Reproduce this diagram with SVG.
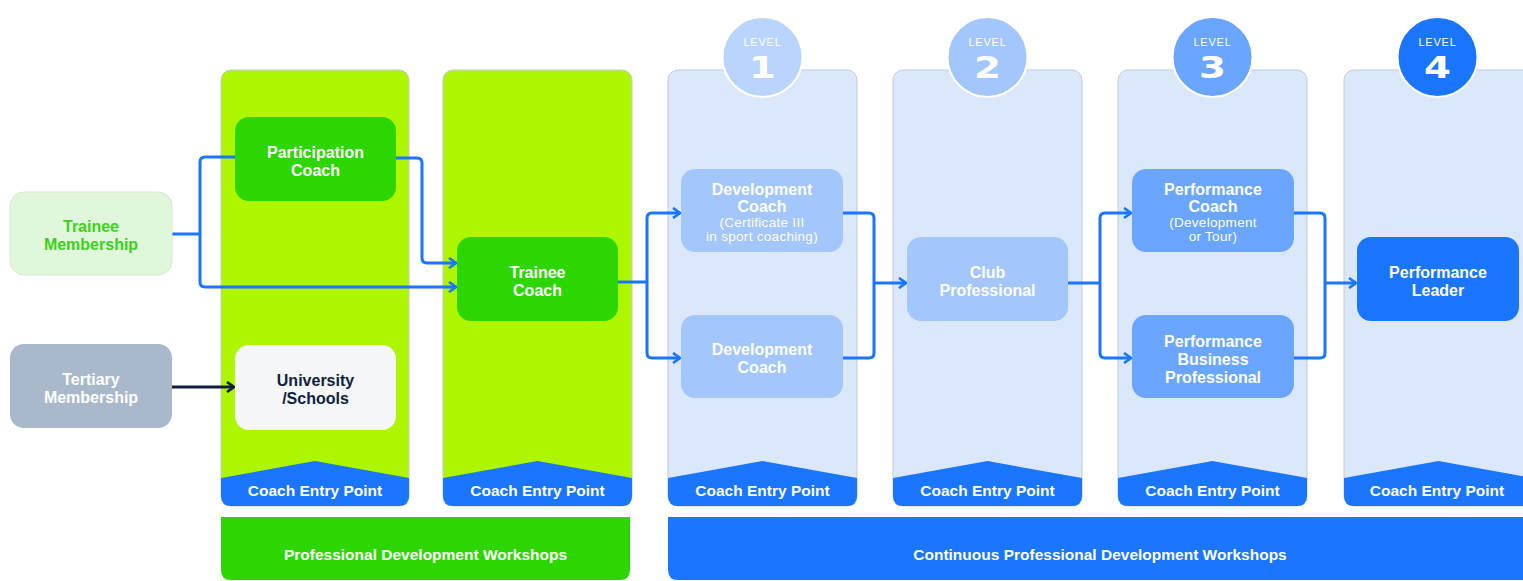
<svg xmlns="http://www.w3.org/2000/svg" width="1523" height="581" viewBox="0 0 1523 581">
<style>
.colg{fill:#AEF500;stroke:#C3CBD6;stroke-width:1}
.colb{fill:#DBE8FC;stroke:#C3CBD6;stroke-width:1}
.band{fill:#1A75FF}
.bandt{font-family:"Liberation Sans",Arial,sans-serif;font-weight:bold;font-size:15.5px;fill:#fff;text-anchor:middle}
.t{font-family:"Liberation Sans",Arial,sans-serif;font-weight:bold;font-size:16px;text-anchor:middle;fill:#fff}
.s{font-family:"Liberation Sans",Arial,sans-serif;font-size:13.5px;letter-spacing:0.3px;text-anchor:middle;fill:#fff}
.lvl{font-family:"Liberation Sans",Arial,sans-serif;font-size:11px;letter-spacing:0.8px;text-anchor:middle;fill:#fff}
.num{font-family:"DejaVu Sans",sans-serif;font-weight:bold;font-size:31px;text-anchor:middle;fill:#fff}
.circ{stroke:#fff;stroke-width:2}
.c{fill:none;stroke:#1A75FF;stroke-width:3;stroke-linejoin:round}
.cn{fill:none;stroke:#0F1E3C;stroke-width:3}
.ws{font-family:"Liberation Sans",Arial,sans-serif;font-weight:bold;font-size:15.5px;fill:#fff;text-anchor:middle}
</style>
<defs>
<marker id="ab" viewBox="0 0 10 12" markerWidth="10" markerHeight="12" refX="8.5" refY="6" orient="auto" markerUnits="userSpaceOnUse"><path d="M1.5,1 L8.5,6 L1.5,11" fill="none" stroke="#1A75FF" stroke-width="2.6"/></marker>
<marker id="an" viewBox="0 0 10 12" markerWidth="10" markerHeight="12" refX="8.5" refY="6" orient="auto" markerUnits="userSpaceOnUse"><path d="M1.5,1 L8.5,6 L1.5,11" fill="none" stroke="#0F1E3C" stroke-width="2.6"/></marker>
</defs>
<rect width="1523" height="581" fill="#fff"/>

<g id="columns">
<rect class="colg" x="221" y="70" width="188" height="436" rx="10"/>
<rect class="colg" x="443" y="70" width="189" height="436" rx="10"/>
<rect class="colb" x="668" y="70" width="189" height="436" rx="10"/>
<rect class="colb" x="893" y="70" width="189" height="436" rx="10"/>
<rect class="colb" x="1118" y="70" width="189" height="436" rx="10"/>
<rect class="colb" x="1344" y="70" width="189" height="436" rx="10"/>
</g>

<g id="entry-points">
<path class="band" d="M221,478 L315,461 L409,478 V496 Q409,506 399,506 H231 Q221,506 221,496 Z"/>
<text class="bandt" x="315" y="495.5">Coach Entry Point</text>
<path class="band" d="M443,478 L537.5,461 L632,478 V496 Q632,506 622,506 H453 Q443,506 443,496 Z"/>
<text class="bandt" x="537.5" y="495.5">Coach Entry Point</text>
<path class="band" d="M668,478 L762.5,461 L857,478 V496 Q857,506 847,506 H678 Q668,506 668,496 Z"/>
<text class="bandt" x="762.5" y="495.5">Coach Entry Point</text>
<path class="band" d="M893,478 L987.5,461 L1082,478 V496 Q1082,506 1072,506 H903 Q893,506 893,496 Z"/>
<text class="bandt" x="987.5" y="495.5">Coach Entry Point</text>
<path class="band" d="M1118,478 L1212.5,461 L1307,478 V496 Q1307,506 1297,506 H1128 Q1118,506 1118,496 Z"/>
<text class="bandt" x="1212.5" y="495.5">Coach Entry Point</text>
<path class="band" d="M1344,478 L1438.5,461 L1533,478 V496 Q1533,506 1523,506 H1354 Q1344,506 1344,496 Z"/>
<text class="bandt" x="1437" y="495.5">Coach Entry Point</text>
</g>

<g id="levels">
<g id="level1"><circle class="circ" cx="762.5" cy="57" r="40" fill="#B9D5FD"/><text class="lvl" x="762.5" y="46">LEVEL</text><text class="num" transform="translate(762.5,78) scale(1.25,1)" x="0" y="0">1</text></g>
<g id="level2"><circle class="circ" cx="987.5" cy="57" r="40" fill="#A3C6FC"/><text class="lvl" x="987.5" y="46">LEVEL</text><text class="num" transform="translate(987.5,78) scale(1.25,1)" x="0" y="0">2</text></g>
<g id="level3"><circle class="circ" cx="1212.5" cy="57" r="40" fill="#6AA6FF"/><text class="lvl" x="1212.5" y="46">LEVEL</text><text class="num" transform="translate(1212.5,78) scale(1.25,1)" x="0" y="0">3</text></g>
<g id="level4"><circle class="circ" cx="1437.5" cy="57" r="40" fill="#1A75FF"/><text class="lvl" x="1437.5" y="46">LEVEL</text><text class="num" transform="translate(1437.5,78) scale(1.25,1)" x="0" y="0">4</text></g>
</g>

<g id="connectors">
<path class="c" d="M172,234 H200"/>
<path class="c" d="M235,157 H205 Q200,157 200,162 V282 Q200,287 205,287 H456" marker-end="url(#ab)"/>
<path class="c" d="M396,158 H417 Q422,158 422,163 V258 Q422,263 427,263 H456" marker-end="url(#ab)"/>
<path class="cn" d="M172,387 H234" marker-end="url(#an)"/>
<path class="c" d="M618,282 H647"/>
<path class="c" d="M647,282 V218 Q647,213 652,213 H680" marker-end="url(#ab)"/>
<path class="c" d="M647,282 V353 Q647,358 652,358 H680" marker-end="url(#ab)"/>
<path class="c" d="M843,213 H869 Q874,213 874,218 V353 Q874,358 869,358 H843"/>
<path class="c" d="M874,283 H906" marker-end="url(#ab)"/>
<path class="c" d="M1068,283 H1100"/>
<path class="c" d="M1100,283 V218 Q1100,213 1105,213 H1131" marker-end="url(#ab)"/>
<path class="c" d="M1100,283 V353 Q1100,358 1105,358 H1131" marker-end="url(#ab)"/>
<path class="c" d="M1294,213 H1320 Q1325,213 1325,218 V353 Q1325,358 1320,358 H1294"/>
<path class="c" d="M1325,283 H1356" marker-end="url(#ab)"/>
</g>

<g id="trainee-membership"><rect x="10" y="192" width="162" height="83" rx="14" fill="#E0F7DB" stroke="#D5E8D0" stroke-width="1"/><text class="t" x="91" y="232" style="fill:#3CD11C">Trainee</text><text class="t" x="91" y="250" style="fill:#3CD11C">Membership</text></g>
<g id="tertiary-membership"><rect x="10" y="344" width="162" height="84" rx="14" fill="#A9B8CB"/><text class="t" x="91" y="385">Tertiary</text><text class="t" x="91" y="403">Membership</text></g>
<g id="participation-coach"><rect x="235" y="117" width="161" height="84" rx="14" fill="#2ED600"/><text class="t" x="315.5" y="158">Participation</text><text class="t" x="315.5" y="176">Coach</text></g>
<g id="university-schools"><rect x="235" y="345" width="161" height="85" rx="14" fill="#F5F7FA"/><text class="t" x="315.5" y="386" style="fill:#0F1E3C">University</text><text class="t" x="315.5" y="404" style="fill:#0F1E3C">/Schools</text></g>
<g id="trainee-coach"><rect x="457" y="237" width="161" height="84" rx="14" fill="#2ED600"/><text class="t" x="537.5" y="278">Trainee</text><text class="t" x="537.5" y="296">Coach</text></g>
<g id="development-coach-cert"><rect x="681" y="169" width="162" height="83" rx="14" fill="#A3C6FC"/><text class="t" x="762" y="195">Development</text><text class="t" x="762" y="212">Coach</text><text class="s" x="762" y="227">(Certificate III</text><text class="s" x="762" y="241">in sport coaching)</text></g>
<g id="development-coach"><rect x="681" y="315" width="162" height="83" rx="14" fill="#A3C6FC"/><text class="t" x="762" y="355">Development</text><text class="t" x="762" y="373">Coach</text></g>
<g id="club-professional"><rect x="907" y="237" width="161" height="84" rx="14" fill="#A3C6FC"/><text class="t" x="987.5" y="278">Club</text><text class="t" x="987.5" y="296">Professional</text></g>
<g id="performance-coach"><rect x="1132" y="169" width="162" height="83" rx="14" fill="#6AA6FF"/><text class="t" x="1213" y="195">Performance</text><text class="t" x="1213" y="212">Coach</text><text class="s" x="1213" y="227">(Development</text><text class="s" x="1213" y="241">or Tour)</text></g>
<g id="performance-business-professional"><rect x="1132" y="315" width="162" height="83" rx="14" fill="#6AA6FF"/><text class="t" x="1213" y="347">Performance</text><text class="t" x="1213" y="365">Business</text><text class="t" x="1213" y="383">Professional</text></g>
<g id="performance-leader"><rect x="1357" y="237" width="162" height="84" rx="14" fill="#1A75FF"/><text class="t" x="1438" y="278">Performance</text><text class="t" x="1438" y="296">Leader</text></g>

<g id="workshops">
<path d="M221,517 H630 V570 Q630,580 620,580 H231 Q221,580 221,570 Z" fill="#2ED600"/>
<text class="ws" x="425.5" y="559.5">Professional Development Workshops</text>
<path d="M668,517 H1533 V580 H678 Q668,580 668,570 Z" fill="#1A75FF"/>
<text class="ws" x="1100" y="559.5">Continuous Professional Development Workshops</text>
</g>
</svg>
